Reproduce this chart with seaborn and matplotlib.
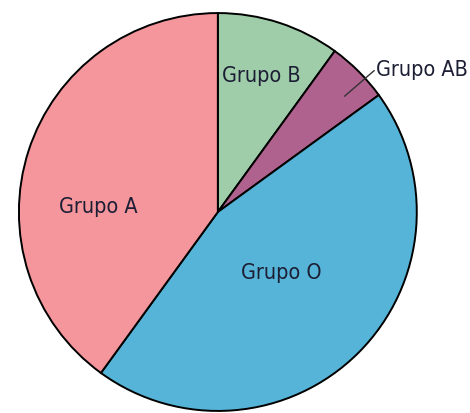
import matplotlib
matplotlib.use("Agg")
import matplotlib.pyplot as plt
import seaborn as sns

sns.set_theme(style="white")
plt.rcParams['font.family'] = ['DejaVu Sans']
plt.rcParams['font.stretch'] = 'condensed'

# blood groups, clockwise from the top
grupos = ["Grupo B", "Grupo AB", "Grupo O", "Grupo A"]
porcentajes = [10, 5, 45, 40]
colores = ["#9fcdaa", "#b0628e", "#56b4d8", "#f4969c"]

fig = plt.figure(figsize=(4.70, 4.14), dpi=100)
ax = fig.add_axes([0.036, 0.0, 0.855, 0.971])

ax.pie(porcentajes, colors=colores, startangle=90, counterclock=False,
       radius=1, wedgeprops={'edgecolor': 'black', 'linewidth': 1.4})
ax.set_xlim(-1.01, 1.01)
ax.set_ylim(-1.01, 1.01)
ax.set_aspect('equal')

txt = dict(fontsize=15.5, color='#1c1e34', va='center', stretch='condensed')
ax.text(0.22, 0.69, grupos[0], ha='center', **txt)
ax.text(-0.60, 0.03, grupos[3], ha='center', **txt)
ax.text(0.32, -0.30, grupos[2], ha='center', **txt)
ax.text(0.795, 0.72, grupos[1], ha='left', **txt)
ax.plot([0.637, 0.786], [0.582, 0.711], color='#333333', lw=1)

fig.savefig("out.png", dpi=100)
